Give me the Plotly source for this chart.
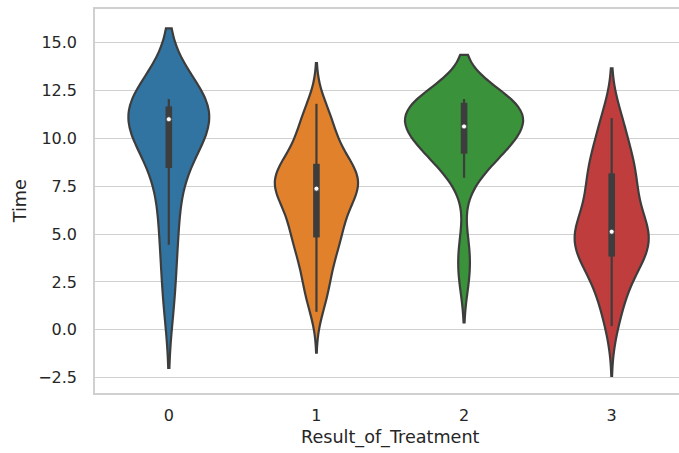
import numpy as np
import plotly.graph_objects as go

# ---- data ----
categories = [0, 1, 2, 3]
x_tick_labels = ["0", "1", "2", "3"]
y_tick_values = [-2.5, 0.0, 2.5, 5.0, 7.5, 10.0, 12.5, 15.0]
y_tick_labels = ["\u22122.5", "0.0", "2.5", "5.0", "7.5", "10.0", "12.5", "15.0"]

time_result_0 = [1.75, 4.5, 6.25, 8.5, 9.0, 10.5, 11.0, 11.0, 11.25, 11.5,
                 11.5, 11.75, 12.0, 12.0]

time_result_1 = [1.0, 1.5, 1.5, 2.0, 2.0, 2.5, 2.5, 3.0, 3.0, 3.5,
                 3.5, 4.0, 4.0, 4.0, 4.5, 4.5, 4.5, 4.75, 5.0, 5.0,
                 5.0, 5.0, 5.5, 5.5, 5.5, 5.5, 6.0, 6.0, 6.0, 6.0,
                 6.5, 6.5, 6.5, 7.0, 7.0, 7.0, 7.0, 7.25, 7.25, 7.25,
                 7.5, 7.5, 7.5, 7.5, 7.5, 7.5, 7.5, 7.75, 7.75, 7.75,
                 8.0, 8.0, 8.0, 8.0, 8.0, 8.0, 8.5, 8.5, 8.5, 8.5,
                 8.5, 8.5, 9.0, 9.0, 9.0, 9.0, 9.5, 9.5, 9.5, 10.0,
                 10.0, 10.5, 10.5, 10.5, 11.0, 11.0, 11.0, 11.5, 11.5, 11.75]

time_result_2 = [2.75, 4.25, 8.0, 8.5, 9.0, 9.25, 9.25, 9.75, 10.0, 10.0,
                 10.25, 10.5, 10.5, 10.75, 10.75, 11.0, 11.25, 11.25, 11.5, 11.75,
                 12.0, 12.0, 12.0, 12.0, 12.0, 12.0]

time_result_3 = [0.25, 1.0, 1.5, 2.0, 2.5, 3.0, 3.25, 3.5, 3.75, 4.0,
                 4.0, 4.25, 4.5, 4.5, 4.75, 4.75, 5.0, 5.0, 5.0, 5.0,
                 5.25, 5.5, 5.75, 6.0, 6.5, 6.75, 7.0, 7.5, 7.75, 8.0,
                 8.0, 8.25, 8.5, 8.75, 9.0, 9.5, 10.0, 10.75, 11.0, 11.0]

groups = [time_result_0, time_result_1, time_result_2, time_result_3]

# ---- style ----
colors = ["#3274a1", "#e1812c", "#3a923a", "#c03d3e"]
gray = "#3d3d3d"
text_color = "#262626"
grid_color = "#d0d0d0"
font_family = "DejaVu Sans"

W, H = 679, 453
margin_l, margin_r, margin_t, margin_b = 95, 0, 9, 60
y_range = [-3.3, 16.76]
x_range = [-0.5, 3.456]
plot_h = H - margin_t - margin_b
px_per_unit = plot_h / (y_range[1] - y_range[0])
whisker_cap = 1.1 / px_per_unit
box_cap = 3.3 / px_per_unit
max_violin_width = 0.8


def scott_bw(arr):
    return arr.std(ddof=1) * len(arr) ** (-0.2)


def kde_peak(arr, bw):
    grid = np.linspace(arr.min() - 2 * bw, arr.max() + 2 * bw, 200)
    z = (grid[:, None] - arr[None, :]) / bw
    dens = np.exp(-0.5 * z ** 2).sum(axis=1) / (len(arr) * bw * np.sqrt(2 * np.pi))
    return dens.max()


arrays = [np.asarray(g, dtype=float) for g in groups]
bws = [scott_bw(a) for a in arrays]
peaks = [kde_peak(a, b) for a, b in zip(arrays, bws)]
global_peak = max(peaks)

fig = go.Figure()

for cat, arr, bw, pk, col in zip(categories, arrays, bws, peaks, colors):
    fig.add_trace(go.Violin(
        x0=cat, y=arr, orientation="v",
        bandwidth=bw, spanmode="soft",
        scalegroup="g%d" % cat, scalemode="width",
        width=max_violin_width * pk / global_peak,
        fillcolor=col, line=dict(color=gray, width=2.2),
        points=False, box_visible=False, meanline_visible=False,
        hoverinfo="skip", showlegend=False,
    ))

for cat, arr in zip(categories, arrays):
    q1, med, q3 = np.percentile(arr, [25, 50, 75])
    lim = 1.5 * (q3 - q1)
    lo = arr[arr >= q1 - lim].min()
    hi = arr[arr <= q3 + lim].max()
    fig.add_trace(go.Scatter(
        x=[cat, cat], y=[lo - whisker_cap, hi + whisker_cap], mode="lines",
        line=dict(color=gray, width=2.2), hoverinfo="skip", showlegend=False))
    fig.add_trace(go.Scatter(
        x=[cat, cat], y=[q1 - box_cap, q3 + box_cap], mode="lines",
        line=dict(color=gray, width=6.6), hoverinfo="skip", showlegend=False))
    fig.add_trace(go.Scatter(
        x=[cat], y=[med], mode="markers",
        marker=dict(color="white", size=5, line=dict(color=gray, width=0.8)),
        hoverinfo="skip", showlegend=False))

fig.update_layout(
    width=W, height=H,
    margin=dict(l=margin_l, r=margin_r, t=margin_t, b=margin_b, pad=0),
    paper_bgcolor="white", plot_bgcolor="white",
    font=dict(family=font_family, color=text_color, size=16),
    violinmode="overlay", showlegend=False,
)

fig.update_xaxes(
    range=x_range, tickmode="array", tickvals=categories, ticktext=x_tick_labels,
    showgrid=False, zeroline=False,
    showline=True, linecolor=grid_color, linewidth=1.5, mirror=True,
    ticks="outside", ticklen=7, tickcolor="rgba(0,0,0,0)",
    tickfont=dict(family=font_family, size=16, color=text_color),
)
fig.update_yaxes(
    range=y_range, tickmode="array", tickvals=y_tick_values, ticktext=y_tick_labels,
    showgrid=True, gridcolor=grid_color, gridwidth=1.2, zeroline=False,
    showline=True, linecolor=grid_color, linewidth=1.5, mirror=False,
    ticks="outside", ticklen=13, tickcolor="rgba(0,0,0,0)",
    tickfont=dict(family=font_family, size=16, color=text_color),
)

fig.add_annotation(
    text="Result_of_Treatment", x=1.5, xref="x", y=-0.115, yref="paper",
    yanchor="middle", xanchor="center", showarrow=False,
    font=dict(family=font_family, size=17.6, color=text_color))
fig.add_annotation(
    text="Time", x=-0.128, xref="paper", y=0.5, yref="paper",
    xanchor="center", yanchor="middle", textangle=-90, showarrow=False,
    font=dict(family=font_family, size=17.6, color=text_color))

fig.write_html("out.html")
